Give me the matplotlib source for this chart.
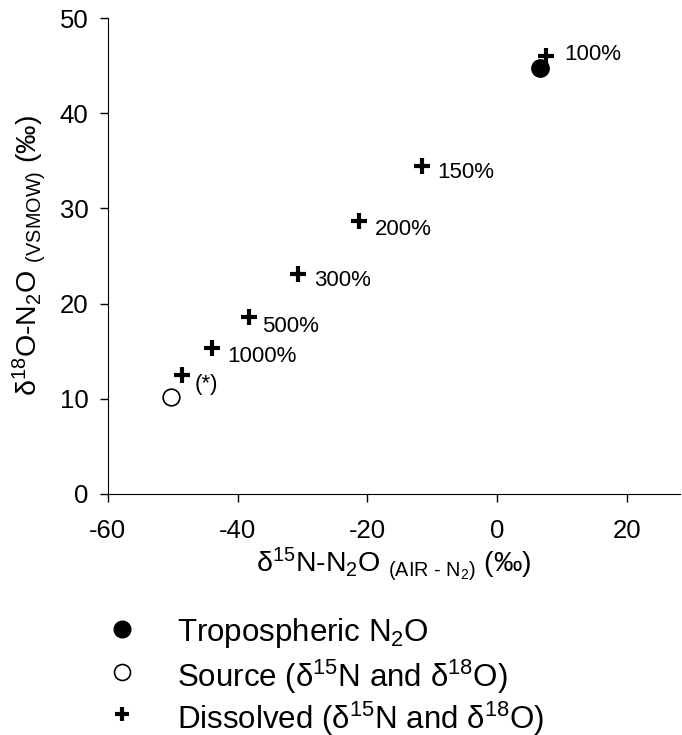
import matplotlib
matplotlib.use("Agg")
import matplotlib.pyplot as plt
from matplotlib.lines import Line2D

plt.rcParams['font.family'] = ['Liberation Sans', 'DejaVu Sans']
plt.rcParams['mathtext.fontset'] = 'custom'
plt.rcParams['mathtext.rm'] = 'Liberation Sans'
plt.rcParams['mathtext.it'] = 'Liberation Sans:italic'
plt.rcParams['mathtext.bf'] = 'Liberation Sans:bold'
plt.rcParams['axes.unicode_minus'] = False

# isotope values (permil)
trop_d15n = [6.7]
trop_d18o = [44.7]

source_d15n = [-50.2]
source_d18o = [10.2]

dissolved_labels = ['100%', '150%', '200%', '300%', '500%', '1000%', '(*)']
dissolved_d15n = [7.6, -11.5, -21.2, -30.6, -38.2, -43.9, -48.5]
dissolved_d18o = [46.0, 34.5, 28.7, 23.1, 18.6, 15.3, 12.5]
label_offsets = [(13, 1), (11, -5), (11, -6), (11, -5), (9, -7), (11, -6), (9, -7)]

legend_names = [
    r'Tropospheric N$_2$O',
    r'Source (δ$^{15}$N and δ$^{18}$O)',
    r'Dissolved (δ$^{15}$N and δ$^{18}$O)',
]

fig = plt.figure(figsize=(6.82, 7.35), dpi=100)
ax = fig.add_axes([0.158, 0.328, 0.839, 0.6475])

ax.plot(trop_d15n, trop_d18o, 'o', color='black', markersize=12.5)
ax.plot(source_d15n, source_d18o, 'o', mfc='white', mec='black', mew=1.2, markersize=12)
ax.plot(dissolved_d15n, dissolved_d18o, '+', color='black', markersize=11, mew=3)

for lab, x, y, off in zip(dissolved_labels, dissolved_d15n, dissolved_d18o, label_offsets):
    ax.annotate(lab, (x, y), xytext=off, textcoords='offset points',
                ha='left', va='center', fontsize=16)

ax.set_xlim(-60, 28.2)
ax.set_ylim(0, 50)
ax.set_xticks([-60, -40, -20, 0, 20])
ax.set_yticks([0, 10, 20, 30, 40, 50])
ax.spines['top'].set_visible(False)
ax.spines['right'].set_visible(False)
ax.tick_params(direction='out', length=6, width=1, labelsize=18.5)
ax.tick_params(axis='x', pad=12)
ax.tick_params(axis='y', pad=8)

ax.set_xlabel(r'δ$^{15}$N-N$_2$O $_{\mathrm{(AIR\ \text{-}\ N_2)}}$ (‰)', fontsize=20.5, labelpad=2)
ax.set_ylabel(r'δ$^{18}$O-N$_2$O $_{\mathrm{(VSMOW)}}$ (‰)', fontsize=20.5, labelpad=8)

# legend block below the axes, one row per symbol
handles = [
    dict(marker='o', color='black', markersize=12),
    dict(marker='o', mfc='white', mec='black', mew=1.2, markersize=11.5),
    dict(marker='+', color='black', markersize=10, mew=3),
]
row_y = [1 - 629 / 735, 1 - 672 / 735, 1 - 714 / 735]
for style, name, y in zip(handles, legend_names, row_y):
    fig.add_artist(Line2D([122 / 682], [y], ls='none', transform=fig.transFigure, **style))
    fig.text(177 / 682, y, name, fontsize=22.5, ha='left', va='center_baseline')

fig.savefig('out.png', dpi=100)
